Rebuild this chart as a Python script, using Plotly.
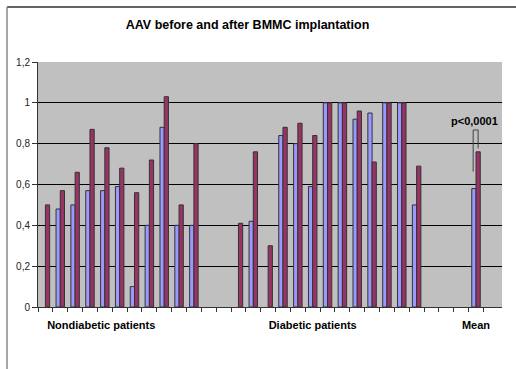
import plotly.graph_objects as go

# ---- data ----
categories = list(range(1, 32))
before = [None, 0.48, 0.50, 0.57, 0.57, 0.59, 0.10, 0.40, 0.88, 0.40, 0.40,
          None, None,
          None, 0.42, None, 0.84, 0.80, 0.59, 1.00, 1.00, 0.92, 0.95, 1.00, 1.00, 0.50,
          None, None, None,
          0.58, None]
after = [0.50, 0.57, 0.66, 0.87, 0.78, 0.68, 0.56, 0.72, 1.03, 0.50, 0.80,
         None, None,
         0.41, 0.76, 0.30, 0.88, 0.90, 0.84, 1.00, 1.00, 0.96, 0.71, 1.00, 1.00, 0.69,
         None, None, None,
         0.76, None]
group_labels = ["Nondiabetic patients", "Diabetic patients", "Mean"]
group_label_pos = [4.76, 19, 30]
y_tick_vals = [0, 0.2, 0.4, 0.6, 0.8, 1.0, 1.2]
y_tick_text = ["0", "0,2", "0,4", "0,6", "0,8", "1", "1,2"]
p_text = "p<0,0001"
mean_index = 29  # position of the Mean pair in the lists

BLUE = "#9999ff"
RED = "#993366"
FONT = "Liberation Sans"

fig = go.Figure()
fig.add_trace(go.Bar(x=categories, y=before, name="before",
                     marker=dict(color=BLUE, line=dict(color="#333333", width=1))))
fig.add_trace(go.Bar(x=categories, y=after, name="after",
                     marker=dict(color=RED, line=dict(color="#333333", width=1))))

bargap = 0.43
off = (1 - bargap) / 4
xm = categories[mean_index]
b_mean = before[mean_index]
a_mean = after[mean_index]
top = max(a_mean, b_mean) + 0.107
xl = xm - off - 0.05
xr = xm + off
fig.add_shape(type="path",
              path=f"M {xl},{b_mean + 0.083} L {xl},{top} L {xr},{top} L {xr},{a_mean + 0.017}",
              xref="x", yref="y", line=dict(color="#404040", width=1))
fig.add_annotation(x=xm - 0.09, y=top, xref="x", yref="y", text=p_text,
                   showarrow=False, yanchor="bottom", yshift=1,
                   font=dict(family=FONT, size=11, color="#000000", weight="bold"))

# chart-area frame (top and left edges visible)
L, R, T, B = 38, 14, 62, 62
W, H = 516, 369
pw, ph = W - L - R, H - T - B
def px2x(px):
    return (px - L) / pw
def py2y(py):
    return (H - B - py) / ph
fig.add_shape(type="line", xref="paper", yref="paper",
              x0=px2x(7), x1=px2x(520), y0=py2y(7), y1=py2y(7),
              line=dict(color="#303030", width=1.5))
fig.add_shape(type="line", xref="paper", yref="paper",
              x0=px2x(7), x1=px2x(7), y0=py2y(7), y1=py2y(375),
              line=dict(color="#8a8a8a", width=1.5))

fig.update_layout(
    width=W, height=H,
    margin=dict(l=L, r=R, t=T, b=B),
    paper_bgcolor="white",
    plot_bgcolor="#c0c0c0",
    barmode="group",
    bargap=bargap,
    bargroupgap=0,
    showlegend=False,
    title=dict(text="AAV before and after BMMC implantation",
               x=247.5 / W, xref="container", xanchor="center",
               y=1 - 25 / H, yref="container", yanchor="middle",
               font=dict(family=FONT, size=12.5, color="#000000", weight="bold")),
    font=dict(family=FONT, size=10, color="#000000"),
)
fig.update_xaxes(
    range=[0.5, 31.75],
    tickmode="array", tickvals=group_label_pos, ticktext=group_labels,
    ticks="", ticklabelstandoff=8,
    tickfont=dict(family=FONT, size=11, color="#000000", weight="bold"),
    showgrid=False, zeroline=False,
    showline=True, linecolor="#333333", linewidth=1,
    minor=dict(tickmode="array", tickvals=[c - 0.5 for c in categories],
               ticks="outside", ticklen=4, tickcolor="#333333", tickwidth=1,
               showgrid=False),
)
fig.update_yaxes(
    range=[0, 1.2],
    tickmode="array", tickvals=y_tick_vals, ticktext=y_tick_text,
    ticks="outside", ticklen=5, tickcolor="#333333",
    tickfont=dict(family=FONT, size=10, color="#222222"),
    showgrid=False, zeroline=False,
    showline=True, linecolor="#333333", linewidth=1,
    minor=dict(tickmode="array", tickvals=y_tick_vals[1:-1], ticks="",
               showgrid=True, gridcolor="#000000", gridwidth=1),
)

fig.write_html("out.html",
               config={"displayModeBar": False},
               post_script="document.body.style.margin='0';document.body.style.overflow='hidden';")
